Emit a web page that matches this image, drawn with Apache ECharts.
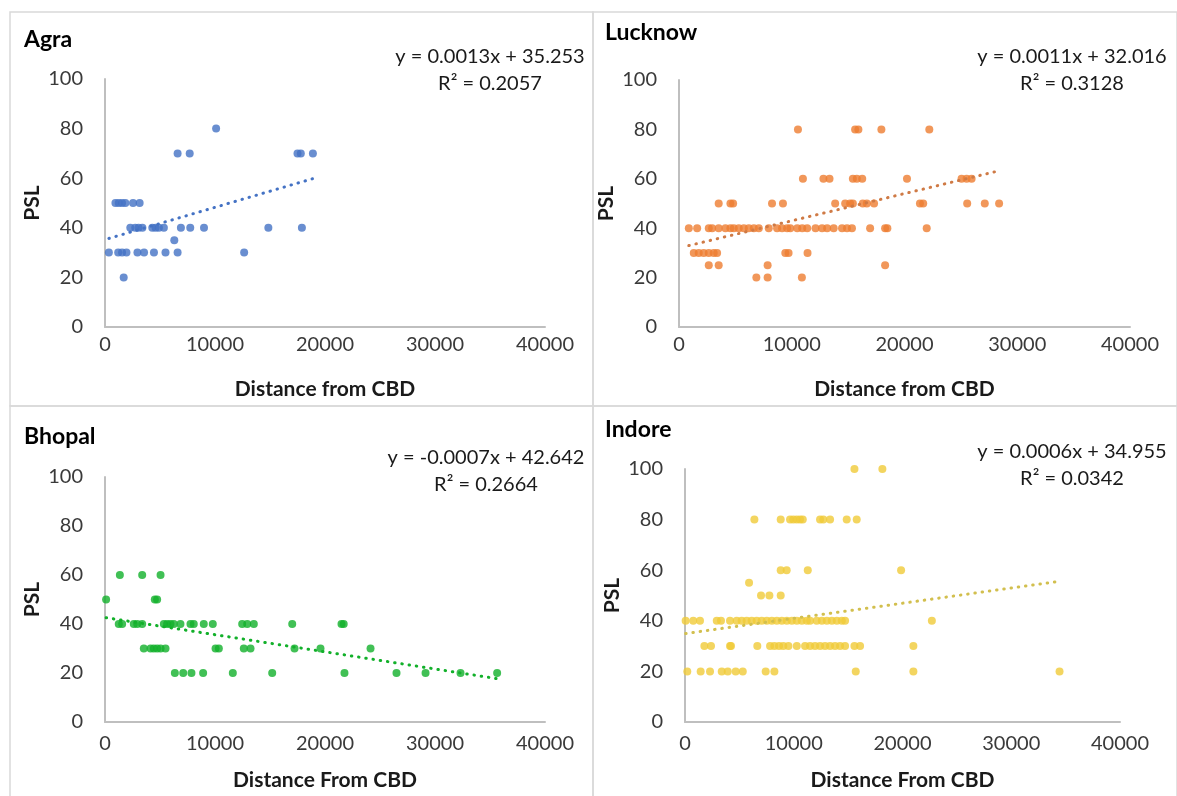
<!DOCTYPE html>
<html>
<head>
<meta charset="utf-8">
<title>PSL vs Distance from CBD</title>
<script src="https://cdn.jsdelivr.net/npm/echarts@6/dist/echarts.min.js"></script>
<style>
  html, body { margin: 0; padding: 0; background: #ffffff; }
  #chart { width: 1177px; height: 796px; }
</style>
</head>
<body>
<div id="chart"></div>
<script>
// ---- Data: distance from CBD (m) and PSL for each city ----
const agraX = [10100,
  6600, 7700, 17500, 17800, 18900,
  950, 1250, 1550, 1850, 2550, 3150,
  2300, 2750, 3050, 3400, 4300, 4600, 4900, 5350, 6900, 7750, 9000, 14850, 17900,
  6300,
  350, 1200, 1550, 1950, 2950, 3550, 4450, 5500, 6600, 12650,
  1700];
const agraY = [80,
  70, 70, 70, 70, 70,
  50, 50, 50, 50, 50, 50,
  40, 40, 40, 40, 40, 40, 40, 40, 40, 40, 40, 40, 40,
  35,
  30, 30, 30, 30, 30, 30, 30, 30, 30, 30,
  20];

const lucknowX = [10550, 15620, 15910, 17950, 22200,
  10990, 12810, 13350, 15420, 15770, 16250, 20220, 25060, 25510, 25950,
  3520, 4560, 4800, 8250, 9220, 13850, 14740, 15180, 15420, 16300, 16660, 17300, 21370, 21660, 25560, 27120, 28390,
  870, 1610, 2640, 2940, 3520, 4120, 4560, 4860, 5300, 5750, 6190, 6640, 7080, 7960, 8700, 9140, 9590, 9870,
  10490, 10930, 11370, 12110, 12690, 13140, 13720, 14460, 14900, 15340, 16950, 18280, 18480, 21970,
  1310, 1750, 2190, 2640, 3080, 3380, 9430, 9720, 11400,
  2640, 3520, 7860, 18280,
  6860, 7860, 10900];
const lucknowY = [80, 80, 80, 80, 80,
  60, 60, 60, 60, 60, 60, 60, 60, 60, 60,
  50, 50, 50, 50, 50, 50, 50, 50, 50, 50, 50, 50, 50, 50, 50, 50, 50,
  40, 40, 40, 40, 40, 40, 40, 40, 40, 40, 40, 40, 40, 40, 40, 40, 40, 40,
  40, 40, 40, 40, 40, 40, 40, 40, 40, 40, 40, 40, 40, 40,
  30, 30, 30, 30, 30, 30, 30, 30, 30,
  25, 25, 25, 25,
  20, 20, 20];

const bhopalX = [1350, 3380, 5050,
  100, 4530, 4740,
  1250, 1560, 2620, 2930, 3380, 5350, 5650, 5950, 6250, 6860, 7770, 8070, 8980, 9800, 12470, 12930, 13530, 17020, 21500, 21700,
  3530, 4140, 4440, 4740, 5050, 5500, 10050, 10350, 12620, 13230, 17230, 19590, 24140,
  6350, 7110, 7860, 8920, 11620, 15200, 21770, 26500, 29140, 32320, 35650];
const bhopalY = [60, 60, 60,
  50, 50, 50,
  40, 40, 40, 40, 40, 40, 40, 40, 40, 40, 40, 40, 40, 40, 40, 40, 40, 40, 40, 40,
  30, 30, 30, 30, 30, 30, 30, 30, 30, 30, 30, 30, 30,
  20, 20, 20, 20, 20, 20, 20, 20, 20, 20, 20];

const indoreX = [15580, 18150,
  6380, 8800, 9660, 9960, 10280, 10580, 10830, 12420, 12720, 13340, 14870, 15790,
  8800, 9350, 11290, 19870,
  5890,
  6990, 7760, 8800,
  60, 760, 1380, 2920, 3310, 4140, 4750, 5210, 5670, 6130, 6590, 7050, 7520, 7980, 8440, 8900, 9360, 9820,
  10280, 10740, 11200, 11500, 12110, 12580, 13040, 13500, 13960, 14420, 14720, 22700,
  1780, 2390, 4140, 4230, 6650, 7820, 8220, 8650, 9040, 9510, 10280, 11040, 11500, 11960, 12420, 12880,
  13340, 13800, 14260, 14720, 15580, 16100, 21000,
  210, 1440, 2300, 3380, 3930, 4660, 5310, 7420, 8220, 15700, 21000, 34440];
const indoreY = [100, 100,
  80, 80, 80, 80, 80, 80, 80, 80, 80, 80, 80, 80,
  60, 60, 60, 60,
  55,
  50, 50, 50,
  40, 40, 40, 40, 40, 40, 40, 40, 40, 40, 40, 40, 40, 40, 40, 40, 40, 40,
  40, 40, 40, 40, 40, 40, 40, 40, 40, 40, 40, 40,
  30, 30, 30, 30, 30, 30, 30, 30, 30, 30, 30, 30, 30, 30, 30, 30,
  30, 30, 30, 30, 30, 30, 30,
  20, 20, 20, 20, 20, 20, 20, 20, 20, 20, 20, 20];

// Linear trend coefficients [slope, intercept] and R² per city
const cityNames = ['Agra', 'Lucknow', 'Bhopal', 'Indore'];
const slopes = [0.0013, 0.0011, -0.0007, 0.0006];
const intercepts = [35.253, 32.016, 42.642, 34.955];
const rSquared = ['0.2057', '0.3128', '0.2664', '0.0342'];
const xAxisNames = ['Distance from CBD', 'Distance from CBD', 'Distance From CBD', 'Distance From CBD'];
const yAxisName = 'PSL';
const xTicks = [0, 10000, 20000, 30000, 40000];
const yTicks = [0, 20, 40, 60, 80, 100];

const xs = [agraX, lucknowX, bhopalX, indoreX];
const ys = [agraY, lucknowY, bhopalY, indoreY];

// ---- Layout and style ----
const FONT = 'Lato, "Open Sans", sans-serif';
const pointColors = ['#4472C4', '#ED7D31', '#12B02A', '#F0CB38'];
const trendColors = ['#4472C4', '#CF7A45', '#12B02A', '#D2BF4E'];
// plot rectangles (left, top, width, height) and panel text anchors
const grids = [
  { left: 105, top: 79, width: 440, height: 248 },
  { left: 679, top: 80, width: 451, height: 247 },
  { left: 105, top: 477, width: 440, height: 245 },
  { left: 685, top: 469, width: 435, height: 253 }
];
const titlePos = [[24, 40], [605, 33], [24, 437], [605, 430]];
const eqPos = [[490, 57], [1072, 57], [486, 458], [1072, 452]];

const option = {
  backgroundColor: '#ffffff',
  animation: false,
  grid: grids.map(g => Object.assign({ containLabel: false }, g)),
  xAxis: grids.map((g, i) => ({
    gridIndex: i,
    type: 'value',
    min: xTicks[0],
    max: xTicks[xTicks.length - 1],
    interval: xTicks[1] - xTicks[0],
    name: xAxisNames[i],
    nameLocation: 'middle',
    nameGap: i < 2 ? 52 : 48,
    nameTextStyle: { fontFamily: FONT, fontSize: 21, fontWeight: 'bold', color: '#1a1a1a' },
    axisLine: { show: true, lineStyle: { color: '#BFBFBF', width: 2 } },
    axisTick: { show: false },
    splitLine: { show: false },
    axisLabel: { fontFamily: FONT, fontSize: 20, color: '#3a3a3a', margin: i < 2 ? 8 : 12,
      formatter: v => String(v) }
  })),
  yAxis: grids.map((g, i) => ({
    gridIndex: i,
    type: 'value',
    min: yTicks[0],
    max: yTicks[yTicks.length - 1],
    interval: yTicks[1] - yTicks[0],
    name: yAxisName,
    nameLocation: 'middle',
    nameGap: 62,
    nameRotate: 90,
    nameTextStyle: { fontFamily: FONT, fontSize: 21, fontWeight: 'bold', color: '#1a1a1a' },
    axisLine: { show: true, lineStyle: { color: '#BFBFBF', width: 2 } },
    axisTick: { show: false },
    splitLine: { show: false },
    axisLabel: { fontFamily: FONT, fontSize: 20, color: '#3a3a3a', margin: 22 }
  })),
  series: [],
  graphic: []
};

cityNames.forEach((name, i) => {
  const pts = xs[i].map((x, k) => [x, ys[i][k]]);
  option.series.push({
    name: name,
    type: 'scatter',
    xAxisIndex: i,
    yAxisIndex: i,
    symbol: 'circle',
    symbolSize: 8,
    itemStyle: { color: pointColors[i] },
    data: pts,
    z: 3
  });
  // trend line over the observed distance range
  const x0 = Math.min.apply(null, xs[i]);
  const x1 = Math.max.apply(null, xs[i]);
  option.series.push({
    name: name + ' trend',
    type: 'line',
    xAxisIndex: i,
    yAxisIndex: i,
    symbol: 'none',
    silent: true,
    lineStyle: { color: trendColors[i], width: 3, type: [0.5, 6.8], cap: 'round' },
    data: [[x0, slopes[i] * x0 + intercepts[i]], [x1, slopes[i] * x1 + intercepts[i]]],
    z: 4
  });

  // panel title
  option.graphic.push({
    type: 'text', x: titlePos[i][0], y: titlePos[i][1],
    style: { text: name, font: 'bold 23px ' + FONT, fill: '#000000',
      align: 'left', verticalAlign: 'middle', textAlign: 'left', textVerticalAlign: 'middle' }
  });
  // trend equation and R²
  const sign = slopes[i] < 0 ? '-' : '';
  const eq = 'y = ' + sign + Math.abs(slopes[i]).toFixed(4) + 'x + ' + intercepts[i].toFixed(3);
  option.graphic.push({
    type: 'text', x: eqPos[i][0], y: eqPos[i][1],
    style: { text: eq, font: '20px ' + FONT, fill: '#1a1a1a',
      align: 'center', verticalAlign: 'middle', textAlign: 'center', textVerticalAlign: 'middle' }
  });
  option.graphic.push({
    type: 'text', x: eqPos[i][0], y: eqPos[i][1] + 27,
    style: { text: 'R² = ' + rSquared[i], font: '20px ' + FONT, fill: '#1a1a1a',
      align: 'center', verticalAlign: 'middle', textAlign: 'center', textVerticalAlign: 'middle' }
  });
});

// panel frames
const frameStyle = { stroke: '#D9D9D9', lineWidth: 1.5, fill: 'none' };
[[10, 12, 583, 394], [593, 12, 584, 394], [10, 406, 583, 400], [593, 406, 584, 400]].forEach(r => {
  option.graphic.push({ type: 'rect', shape: { x: r[0], y: r[1], width: r[2], height: r[3] }, style: frameStyle, silent: true, z: -1 });
});

const chart = echarts.init(document.getElementById('chart'), null, { renderer: 'canvas' });
chart.setOption(option);
</script>
</body>
</html>
